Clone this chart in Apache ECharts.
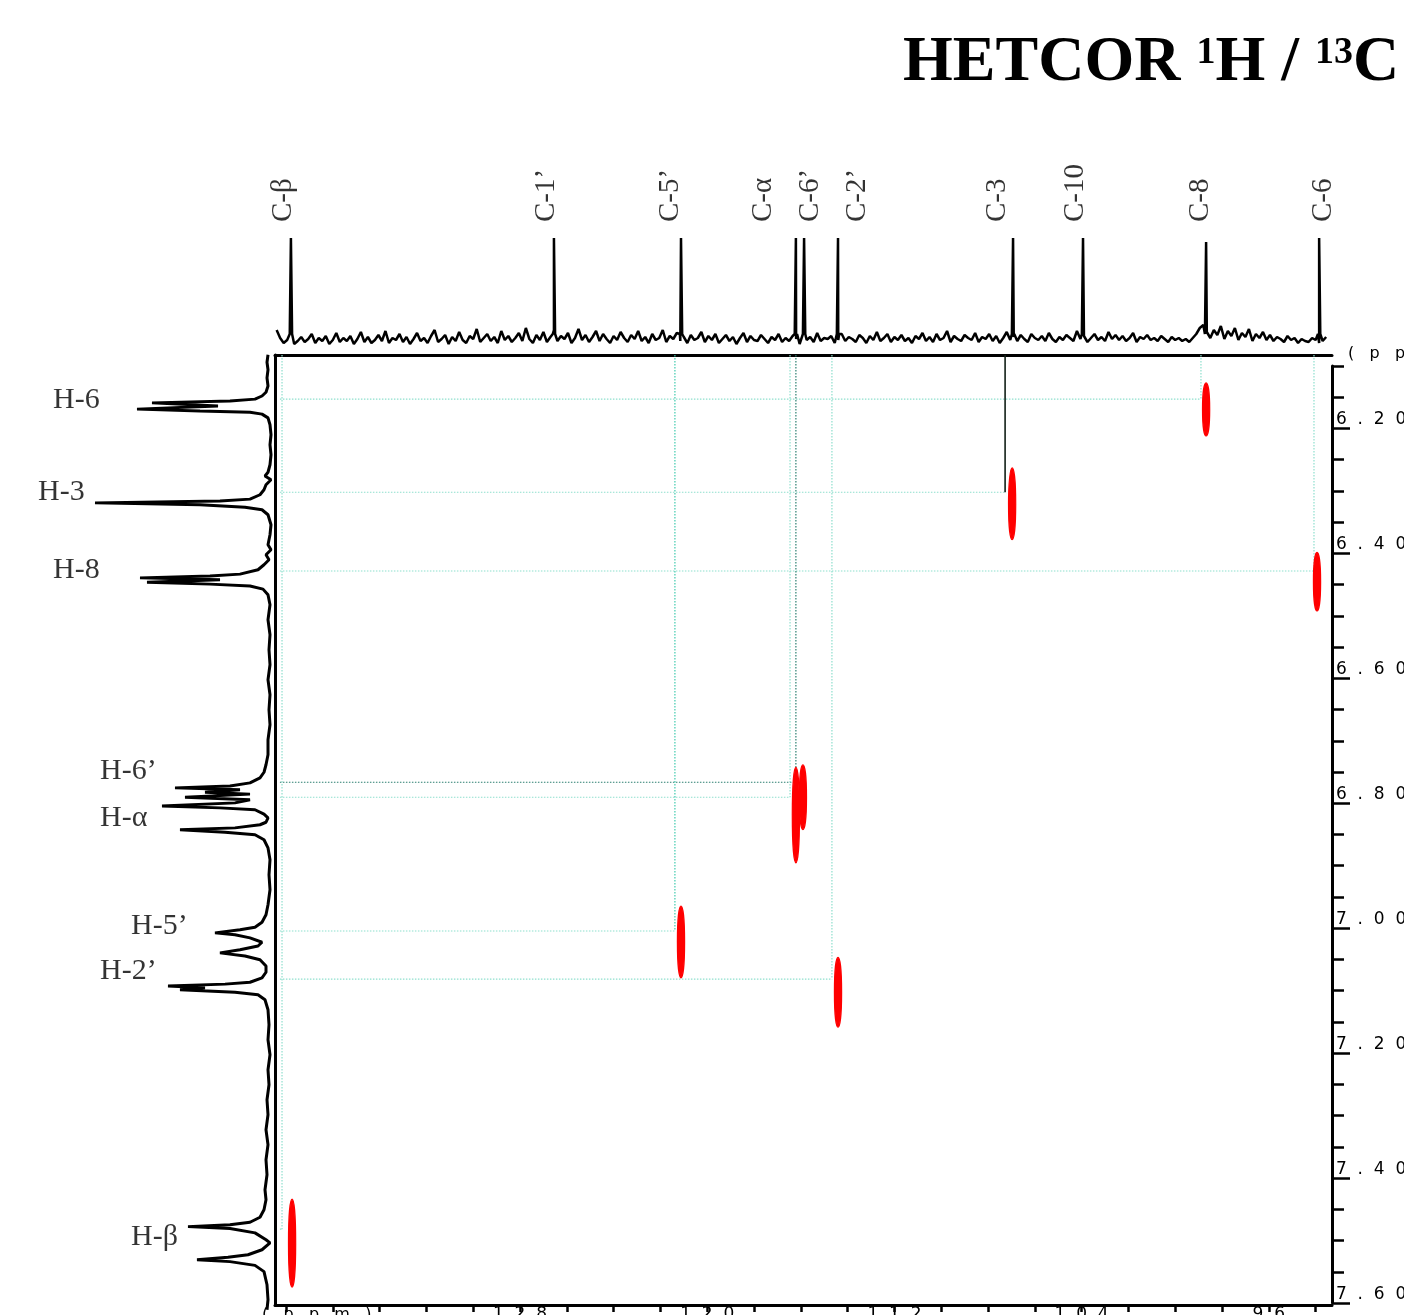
<!DOCTYPE html>
<html>
<head>
<meta charset="utf-8">
<title>HETCOR 1H / 13C</title>
<script src="https://cdn.jsdelivr.net/npm/echarts@6/dist/echarts.min.js"></script>
<style>
  html, body { margin: 0; padding: 0; background: #fff; }
  #chart { width: 1404px; height: 1315px; }
</style>
</head>
<body>
<div id="chart"></div>
<script>
// ---- 13C spectrum (top trace) ----
const cLabels = ['C-β', 'C-1’', 'C-5’', 'C-α', 'C-6’', 'C-2’', 'C-3', 'C-10', 'C-8', 'C-6']
const cShifts = [137.79, 126.55, 121.12, 116.21, 115.86, 114.41, 106.93, 103.94, 98.68, 93.85]
const cHeights = [112, 112, 112, 112, 112, 112, 112, 112, 108, 112]
// baseline noise read every 0.15 ppm from 138.40 ppm downwards
const cNoiseStart = 138.40
const cNoiseStep = 0.15
const cNoise = [
  20, 12, 7, 10, 15, 6, 9, 13, 8, 11, 16, 7, 12, 9, 14, 6, 10, 17, 8, 12,
  9, 14, 6, 11, 18, 8, 13, 7, 10, 15, 9, 19, 7, 12, 10, 16, 8, 13, 6, 11,
  17, 9, 12, 7, 14, 20, 8, 11, 15, 6, 13, 9, 18, 10, 7, 14, 11, 21, 8, 12,
  16, 9, 13, 7, 19, 10, 14, 8, 12, 17, 9, 22, 11, 7, 15, 10, 18, 8, 13, 20,
  9, 14, 11, 17, 7, 12, 21, 10, 15, 8, 13, 19, 9, 16, 11, 7, 14, 10, 18, 12,
  8, 15, 11, 19, 9, 13, 7, 16, 10, 12, 20, 8, 14, 11, 17, 9, 13, 7, 15, 10,
  12, 18, 8, 14, 10, 16, 7, 11, 15, 9, 13, 6, 12, 17, 8, 14, 10, 9, 15, 11,
  7, 13, 10, 16, 8, 12, 9, 14, 11, 6, 15, 10, 13, 8, 17, 9, 12, 11, 14, 7,
  10, 16, 9, 13, 11, 8, 15, 12, 7, 14, 10, 18, 9, 12, 16, 8, 13, 10, 15, 9,
  12, 7, 14, 11, 17, 9, 13, 8, 16, 10, 12, 19, 8, 14, 11, 9, 15, 12, 10, 17,
  8, 13, 11, 16, 9, 14, 7, 12, 18, 10, 13, 9, 15, 11, 8, 16, 12, 10, 14, 9,
  17, 11, 8, 13, 10, 15, 12, 9, 19, 11, 14, 8, 12, 16, 10, 13, 9, 18, 11, 15,
  10, 14, 9, 12, 17, 8, 13, 11, 15, 10, 12, 9, 14, 11, 8, 13, 10, 12, 9, 11,
  8, 12, 16, 22, 25, 18, 12, 20, 15, 24, 11, 19, 14, 22, 10, 17, 13, 21, 9, 16,
  12, 18, 10, 15, 9, 13, 11, 8, 14, 10, 12, 7, 11, 9, 8, 12, 10, 7, 9, 13
]

// ---- 1H spectrum (left trace) ----
const hTraceShift = [
  6.082, 6.094, 6.106, 6.119, 6.132, 6.142, 6.148, 6.153, 6.156, 6.159,
  6.164, 6.169, 6.172, 6.174, 6.177, 6.183, 6.194, 6.210, 6.226, 6.242,
  6.258, 6.270, 6.276, 6.282, 6.290, 6.298, 6.306, 6.313, 6.316, 6.319,
  6.322, 6.326, 6.330, 6.338, 6.354, 6.370, 6.386, 6.394, 6.402, 6.410,
  6.418, 6.426, 6.433, 6.436, 6.439, 6.442, 6.446, 6.449, 6.452, 6.457,
  6.466, 6.482, 6.506, 6.530, 6.554, 6.578, 6.602, 6.626, 6.650, 6.674,
  6.698, 6.722, 6.738, 6.750, 6.759, 6.767, 6.772, 6.775, 6.778, 6.782,
  6.785, 6.790, 6.794, 6.799, 6.804, 6.807, 6.810, 6.817, 6.823, 6.830,
  6.834, 6.839, 6.842, 6.846, 6.850, 6.858, 6.871, 6.890, 6.914, 6.938,
  6.962, 6.978, 6.990, 6.998, 7.002, 7.007, 7.010, 7.015, 7.022, 7.028,
  7.034, 7.039, 7.044, 7.050, 7.060, 7.070, 7.079, 7.086, 7.089, 7.092,
  7.095, 7.098, 7.102, 7.106, 7.114, 7.130, 7.154, 7.178, 7.202, 7.226,
  7.250, 7.274, 7.298, 7.322, 7.346, 7.370, 7.394, 7.418, 7.434, 7.450,
  7.462, 7.470, 7.474, 7.477, 7.480, 7.487, 7.498, 7.503, 7.514, 7.522,
  7.526, 7.530, 7.533, 7.539, 7.549, 7.570, 7.594, 7.610
]
const hTraceInt = [
  7, 8, 7, 8, 7, 9, 13, 20, 45, 123,
  57, 138, 75, 25, 13, 7, 5, 4, 5, 4,
  5, 7, 10, 4, 9, 11, 15, 25, 55, 180,
  75, 30, 13, 7, 4, 5, 7, 4, 9, 6,
  11, 17, 35, 65, 135, 55, 128, 65, 25, 12,
  7, 5, 7, 5, 6, 5, 7, 5, 6, 5,
  7, 7, 9, 11, 15, 25, 45, 100, 35, 70,
  25, 90, 25, 40, 113, 55, 20, 11, 7, 9,
  15, 40, 95, 50, 20, 11, 7, 5, 6, 5,
  7, 9, 13, 20, 35, 60, 40, 25, 13, 17,
  35, 55, 30, 15, 9, 9, 13, 25, 50, 107,
  70, 95, 40, 17, 10, 7, 6, 7, 5, 7,
  6, 8, 7, 9, 7, 9, 8, 10, 9, 11,
  15, 25, 45, 87, 45, 20, 9, 5, 13, 27,
  47, 78, 45, 20, 11, 8, 7, 8
]
const hLabels = ['H-6', 'H-3', 'H-8', 'H-6’', 'H-α', 'H-5’', 'H-2’', 'H-β']
const hShifts = [6.153, 6.302, 6.428, 6.766, 6.790, 7.004, 7.081, 7.481]

// ---- correlations ----
// carbon shift where each proton's guide line meets its cross peak
const corrC = [98.90, 107.27, 94.07, 116.21, 116.46, 121.38, 114.67, 138.17]
// cross peaks: carbon shift, proton extent (top / bottom)
const crossC = [98.68, 106.97, 93.94, 115.91, 116.21, 121.12, 114.41, 137.74]
const crossHTop = [6.127, 6.263, 6.398, 6.738, 6.742, 6.964, 7.046, 7.433]
const crossHBot = [6.212, 6.378, 6.492, 6.842, 6.895, 7.079, 7.158, 7.574]

// ---- axis ticks ----
const hTicks = [6.2, 6.4, 6.6, 6.8, 7.0, 7.2, 7.4, 7.6]
const cTicks = [128, 120, 112, 104, 96]
const cMinorTicks = [138, 136, 134, 132, 130, 128, 126, 124, 122, 120, 118, 116, 114, 112, 110, 108, 106, 104, 102, 100, 98, 96, 94]

// ---- layout / style (not data) ----
const C_MIN = 93.30, C_MAX = 138.47
const H_MIN = 6.0824, H_MAX = 7.6024
const GUIDE_LEFT = 138.26
const cLabelPos = [138.13, 126.89, 121.59, 117.62, 115.61, 113.60, 107.62, 104.28, 98.94, 93.68]
const hLabelPos = [[222, 6.154], [237, 6.301], [222, 6.426], [175, 6.748], [175, 6.823], [144, 6.996], [175, 7.068], [144, 7.494]]
const LIGHT = '#8edfcd', TEAL = '#3fcaae', DARK = '#2c7f70', BLACK = '#122018'
const guideHStyle = [LIGHT, LIGHT, LIGHT, DARK, LIGHT, LIGHT, LIGHT, LIGHT]
const guideVStyle = [LIGHT, BLACK, LIGHT, DARK, LIGHT, TEAL, LIGHT, LIGHT]

const spaced = (s, gap) => String(s).split('').join(gap)

// top trace: noise + peak spikes, ordered left to right (high ppm -> low ppm)
let cTrace = cNoise.map((v, i) => [cNoiseStart - i * cNoiseStep, v])
cShifts.forEach((s, i) => {
  cTrace.push([s + 0.05, 16], [s, cHeights[i]], [s - 0.05, 16])
})
cTrace.sort((a, b) => b[0] - a[0])

const hTrace = hTraceShift.map((s, i) => [hTraceInt[i], s])

const chart = echarts.init(document.getElementById('chart'), null, {renderer: 'canvas'})

const serif = '"Liberation Serif", "DejaVu Serif", serif'
const sans = '"DejaVu Sans", sans-serif'
// grids keep their exact rectangles (labels may run off the canvas, as in the original)
const fixed = {outerBoundsMode: 'none', containLabel: false}

let option = {
  animation: false,
  backgroundColor: '#fff',
  title: {
    left: 903,
    top: 25,
    padding: 0,
    text: '{b|HETCOR }{s|1}{b|H / }{s|13}{b|C}',
    textStyle: {
      rich: {
        b: {fontFamily: serif, fontWeight: 'bold', fontSize: 64, lineHeight: 70, color: '#000', verticalAlign: 'bottom'},
        s: {fontFamily: serif, fontWeight: 'bold', fontSize: 38, color: '#000', verticalAlign: 'top', padding: [9, 0, 0, 0]}
      }
    }
  },
  grid: [
    {left: 275, top: 355, width: 1057, height: 950, ...fixed},   // 2D map
    {left: 275, top: 230, width: 1057, height: 120, ...fixed},   // 13C trace
    {left: 25, top: 355, width: 250, height: 950, ...fixed},     // 1H trace
    {left: 275, top: 366, width: 1057, height: 937, ...fixed},   // 1H ppm scale, minor ticks
    {left: 275, top: 366, width: 1057, height: 937, ...fixed}    // 1H ppm scale, major ticks + labels
  ],
  xAxis: [
    {
      gridIndex: 0, type: 'value', position: 'bottom', inverse: true, min: C_MIN, max: C_MAX,
      axisLine: {onZero: false, lineStyle: {color: '#000', width: 3}},
      axisTick: {show: true, customValues: cMinorTicks, length: 7, lineStyle: {color: '#000', width: 2.5}},
      axisLabel: {
        show: true, customValues: cTicks, margin: 1, color: '#000',
        fontFamily: sans, fontSize: 17, verticalAlign: 'top',
        formatter: v => spaced(v, '  ')
      },
      splitLine: {show: false}
    },
    {
      gridIndex: 0, type: 'value', position: 'top', inverse: true, min: C_MIN, max: C_MAX,
      axisLine: {onZero: false, lineStyle: {color: '#000', width: 3}},
      axisTick: {show: false}, axisLabel: {show: false}, splitLine: {show: false}
    },
    {gridIndex: 1, type: 'value', inverse: true, min: C_MIN, max: C_MAX, show: false},
    {gridIndex: 2, type: 'value', inverse: true, min: 0, max: 250, show: false},
    {gridIndex: 3, type: 'value', min: 0, max: 1, show: false},
    {gridIndex: 4, type: 'value', min: 0, max: 1, show: false}
  ],
  yAxis: [
    {
      gridIndex: 0, type: 'value', position: 'left', inverse: true, min: H_MIN, max: H_MAX,
      axisLine: {show: true, onZero: false, lineStyle: {color: '#000', width: 3}},
      axisTick: {show: false}, axisLabel: {show: false}, splitLine: {show: false}
    },
    {gridIndex: 1, type: 'value', min: 0, max: 120, show: false},
    {gridIndex: 2, type: 'value', inverse: true, min: H_MIN, max: H_MAX, show: false},
    {
      gridIndex: 3, type: 'value', position: 'right', inverse: true, min: 6.1, max: 7.6, interval: 0.05,
      axisLine: {show: true, onZero: false, lineStyle: {color: '#000', width: 3}},
      axisTick: {show: true, length: 12, lineStyle: {color: '#000', width: 2.5}},
      axisLabel: {show: false}, splitLine: {show: false}
    },
    {
      gridIndex: 4, type: 'value', position: 'right', inverse: true, min: 6.1, max: 7.6,
      axisLine: {show: false, onZero: false},
      axisTick: {show: true, customValues: hTicks, length: 18, lineStyle: {color: '#000', width: 2.5}},
      axisLabel: {
        show: true, customValues: hTicks, margin: 4, color: '#000',
        fontFamily: sans, fontSize: 17, align: 'left', verticalAlign: 'bottom',
        formatter: v => spaced(v.toFixed(2), '  ')
      },
      splitLine: {show: false}
    }
  ],
  graphic: [
    {type: 'text', left: 1348, top: 346, style: {text: spaced('(ppm)', '   '), fontFamily: sans, fontSize: 16, fill: '#000'}},
    {type: 'text', left: 262, top: 1307, style: {text: spaced('(ppm)', '   '), fontFamily: sans, fontSize: 16, fill: '#000'}}
  ],
  series: [
    {
      name: 'guides', type: 'custom', xAxisIndex: 0, yAxisIndex: 0, silent: true, clip: false, z: 2,
      data: corrC.map((c, i) => [c, hShifts[i]]),
      renderItem(params, api) {
        const i = params.dataIndex
        const p = api.coord([api.value(0), api.value(1)])
        const l = api.coord([GUIDE_LEFT, api.value(1)])
        const t = api.coord([api.value(0), H_MIN])
        const vSolid = guideVStyle[i] === BLACK
        return {
          type: 'group',
          children: [
            {type: 'line', shape: {x1: l[0], y1: p[1], x2: p[0], y2: p[1]},
             style: {stroke: guideHStyle[i], lineWidth: 1.2, lineDash: [1.5, 1.5]}},
            {type: 'line', shape: {x1: p[0], y1: t[1], x2: p[0], y2: p[1]},
             style: {stroke: guideVStyle[i], lineWidth: vSolid ? 1.6 : 1.2, lineDash: vSolid ? null : [1.5, 1.5]}}
          ]
        }
      }
    },
    {
      name: 'cross peaks', type: 'custom', xAxisIndex: 0, yAxisIndex: 0, silent: true, z: 3,
      data: crossC.map((c, i) => [c, crossHTop[i], crossHBot[i]]),
      renderItem(params, api) {
        const a = api.coord([api.value(0), api.value(1)])
        const b = api.coord([api.value(0), api.value(2)])
        return {
          type: 'ellipse',
          shape: {cx: a[0], cy: (a[1] + b[1]) / 2, rx: 3.6, ry: (b[1] - a[1]) / 2},
          style: {fill: '#ff0000', stroke: '#ff0000', lineWidth: 1.2}
        }
      }
    },
    {
      name: '13C', type: 'line', xAxisIndex: 2, yAxisIndex: 1, data: cTrace,
      showSymbol: false, symbol: 'none', clip: false,
      lineStyle: {color: '#000', width: 2.5}
    },
    {
      name: '13C labels', type: 'scatter', xAxisIndex: 2, yAxisIndex: 1, symbolSize: 0, clip: false, silent: true,
      data: cLabels.map((n, i) => ({name: n, value: [cLabelPos[i], 128]})),
      label: {
        show: true, position: 'inside', rotate: 90, align: 'left', verticalAlign: 'middle',
        formatter: p => p.name, fontFamily: serif, fontSize: 29, color: '#000'
      }
    },
    {
      name: '1H', type: 'line', xAxisIndex: 3, yAxisIndex: 2, data: hTrace,
      showSymbol: false, symbol: 'none', clip: false,
      lineStyle: {color: '#000', width: 3}
    },
    {
      name: '1H labels', type: 'scatter', xAxisIndex: 3, yAxisIndex: 2, symbolSize: 0, clip: false, silent: true,
      data: hLabels.map((n, i) => ({name: n, value: hLabelPos[i]})),
      label: {
        show: true, position: 'inside', align: 'left', verticalAlign: 'middle',
        formatter: p => p.name, fontFamily: serif, fontSize: 30, color: '#000'
      }
    }
  ]
}

chart.setOption(option)
</script>
</body>
</html>
